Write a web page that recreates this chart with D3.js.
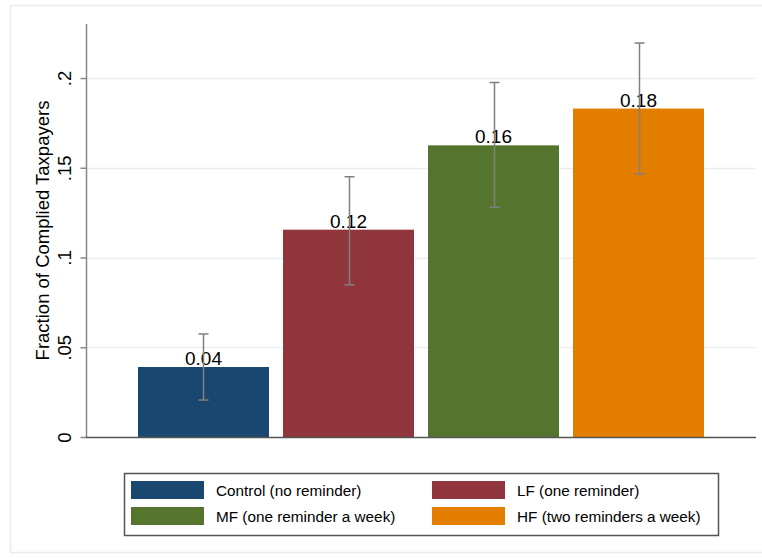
<!DOCTYPE html>
<html><head><meta charset="utf-8">
<script src="https://cdn.jsdelivr.net/npm/d3@7"></script>
<style>body{margin:0;background:#fff}svg{display:block;font-family:"Liberation Sans",Arial,sans-serif}</style>
</head><body><svg id="c" width="762" height="558"></svg>
<script>
const categories = ["Control (no reminder)", "LF (one reminder)", "MF (one reminder a week)", "HF (two reminders a week)"];
const values = [0.039, 0.1155, 0.1625, 0.1830];
const ciLow = [0.0206, 0.0848, 0.1280, 0.1465];
const ciHigh = [0.0574, 0.1450, 0.1975, 0.2195];
const valueLabels = ["0.04", "0.12", "0.16", "0.18"];
const colors = ["#1a476f", "#90353b", "#55752f", "#e37e00"];
const yTicks = [0, 0.05, 0.1, 0.15, 0.2];
const yTickLabels = ["0", ".05", ".1", ".15", ".2"];
const yTitle = "Fraction of Complied Taxpayers";

(function(){
const svg = d3.select("#c");
// outer frame
svg.append("rect").attr("x",10.5).attr("y",5.5).attr("width",800).attr("height",547)
  .attr("fill","#fff").attr("stroke","#e6ecef").attr("stroke-width",1.5);

const pL = 86, pR = 756, pT = 24, pB = 437;
const y = d3.scaleLinear().domain([0, 0.2301]).range([pB, pT]);
const x = d3.scaleBand().domain(categories).range([131, 711]).paddingInner(0.0966).paddingOuter(0.0483);

// gridlines
svg.append("g").selectAll("line").data(yTicks.slice(1)).join("line")
  .attr("x1",pL).attr("x2",pR).attr("y1",d=>Math.round(y(d))+0.5).attr("y2",d=>Math.round(y(d))+0.5)
  .attr("stroke","#e8eef1").attr("stroke-width",1.5);

// bars
svg.append("g").selectAll("rect").data(categories).join("rect")
  .attr("x",d=>x(d)).attr("width",x.bandwidth())
  .attr("y",(d,i)=>y(values[i])).attr("height",(d,i)=>pB-y(values[i]))
  .attr("fill",(d,i)=>colors[i]);

// value labels
svg.append("g").selectAll("text").data(categories).join("text")
  .attr("x",d=>x(d)+x.bandwidth()/2).attr("y",(d,i)=>y(values[i])-2)
  .attr("text-anchor","middle").attr("font-size",19).attr("fill","#000")
  .text((d,i)=>valueLabels[i]);

// error bars
const eb = svg.append("g").attr("stroke","#808080").attr("stroke-width",1.5).attr("fill","none");
categories.forEach((c,i)=>{
  const cx = Math.round(x(c)+x.bandwidth()/2)+0.5;
  eb.append("line").attr("x1",cx).attr("x2",cx).attr("y1",y(ciLow[i])).attr("y2",y(ciHigh[i]));
  eb.append("line").attr("x1",cx-5).attr("x2",cx+5).attr("y1",y(ciLow[i])).attr("y2",y(ciLow[i]));
  eb.append("line").attr("x1",cx-5).attr("x2",cx+5).attr("y1",y(ciHigh[i])).attr("y2",y(ciHigh[i]));
});

// y axis
const yAxis = d3.axisLeft(y).tickValues(yTicks).tickFormat((d,i)=>yTickLabels[i]).tickSize(6).tickPadding(0);
const ga = svg.append("g").attr("transform",`translate(${pL+0.5},0)`).call(yAxis);
ga.select(".domain").attr("stroke","#888").attr("stroke-width",1.5).attr("d",`M0,${pT}V${pB}`);
ga.selectAll(".tick line").attr("stroke","#888").attr("stroke-width",1.5);
ga.selectAll(".tick text").attr("font-size",18.5).attr("fill","#000")
  .attr("text-anchor","middle").attr("x",0).attr("y",0).attr("dy",0)
  .attr("transform","translate(-16,0) rotate(-90)");

// x baseline
svg.append("line").attr("x1",pL).attr("x2",pR).attr("y1",pB+0.5).attr("y2",pB+0.5)
  .attr("stroke","#555").attr("stroke-width",1.5);

// y title
svg.append("text").attr("transform",`translate(49,${(pT+pB)/2}) rotate(-90)`)
  .attr("text-anchor","middle").attr("font-size",18.5).attr("fill","#000").text(yTitle);

// legend
const lg = svg.append("g");
lg.append("rect").attr("x",124.5).attr("y",473.5).attr("width",594).attr("height",62)
  .attr("fill","#fff").attr("stroke","#555").attr("stroke-width",1.5);
const colX = [131, 432], rowY = [481, 507];
categories.forEach((c,i)=>{
  const cx = colX[i%2], cy = rowY[Math.floor(i/2)];
  lg.append("rect").attr("x",cx).attr("y",cy).attr("width",73).attr("height",18).attr("fill",colors[i]);
  lg.append("text").attr("x",cx+85).attr("y",cy+14.5).attr("font-size",15.3).attr("fill","#000").text(c);
});
})();
</script></body></html>
